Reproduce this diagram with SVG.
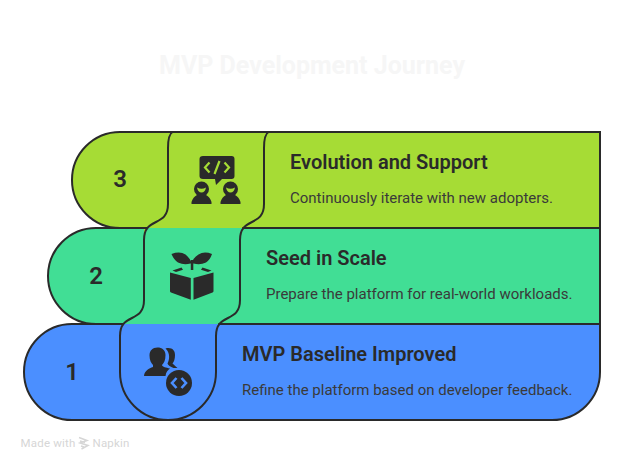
<svg xmlns="http://www.w3.org/2000/svg" width="624" height="468" viewBox="0 0 624 468">
<style>
text{font-family:Roboto,"Liberation Sans",sans-serif;fill:#2a2a2a}
.h{font-size:20px;font-weight:600}
.d{font-size:15px;fill:#3a3a3a}
.n{font-size:24px;font-weight:600;text-anchor:middle}
.l{fill:none;stroke:#2a2a2a;stroke-width:2;stroke-linecap:round}
.i{fill:#2a2a2a}
.f{font-size:11.5px;fill:#d6d6d6;letter-spacing:.2px}
</style>
<rect width="624" height="468" fill="#fff"/>
<text x="312" y="74" text-anchor="middle" font-size="25" font-weight="700" style="fill:#f6f6f6">MVP Development Journey</text>
<g id="band-3">
<path d="M120 132H600V228H120A48 48 0 0 1 120 132Z" fill="#a6dc35"/>
</g>
<g id="band-2">
<path d="M96 228H600V324H96A48 48 0 0 1 96 228Z" fill="#41de95"/>
<path d="M168 204C168 228 144 216 144 240V228H240C240 216 264 228 264 204V228H168Z" fill="#a6dc35"/>
</g>
<g id="band-1">
<path d="M72 324H600V372A48 48 0 0 1 552 420H72A48 48 0 0 1 72 324Z" fill="#4b8fff"/>
</g>
<g id="connectors">
<path class="l" d="M600 228V132H120A48 48 0 0 0 120 228H147"/>
<path class="l" d="M243 228H600V324H242"/>
<path class="l" d="M146 228H96A48 48 0 0 0 96 324H123"/>
<path class="l" d="M219 324H600V372A48 48 0 0 1 552 420H72A48 48 0 0 1 72 324H123"/>
<path class="l" d="M172.500 132C169 134 168 140 168 148V204C168 228 144 216 144 240V300C144 324 120 312 120 336V372A48 48 0 0 0 216 372V336C216 312 240 324 240 300V240C240 216 264 228 264 204V148C264 140 265 134 268.500 132"/>
</g>
<g id="step-3">
<text class="n" x="120" y="187">3</text>
<path class="i" d="M203 156H231.500Q234.500 156 234.500 159V176Q234.500 179 231.500 179H222L216 185L215 179H203Q199.500 179 199.500 176V159Q199.500 156 203 156Z"/>
<path d="M209.500 162.500L205 167.500L209.500 172.500M224.500 162.500L229 167.500L224.500 172.500M219.500 161L214.500 174" fill="none" stroke="#a6dc35" stroke-width="2.200"/>
<circle class="i" cx="201.500" cy="189" r="7.500"/>
<circle class="i" cx="230.500" cy="189" r="7.500"/>
<path class="i" d="M191.500 204V202Q193 197 197 195H206Q210 197 211.500 202V204ZM220.500 204V202Q222 197 226 195H235Q239 197 240.500 202V204Z"/>
<path d="M197 187.500Q201.500 190 206 187.500Q205 192.500 201.500 192.500Q198 192.500 197 187.500ZM226 187.500Q230.500 190 235 187.500Q234 192.500 230.500 192.500Q227 192.500 226 187.500Z" fill="#a6dc35"/>
<text class="h" x="290" y="169">Evolution and Support</text>
<text class="d" x="290" y="203">Continuously iterate with new adopters.</text>
</g>
<g id="step-2">
<text class="n" x="96" y="284">2</text>
<path class="i" d="M171.500 254Q180 251 185.500 254.500Q190 258 192 264Q192.500 258 198.500 254.500Q204 251 212 254Q210 260 206 262.500Q200 265.500 193.500 263.500H190.500Q184 265.500 178 262.500Q174 260 171.500 254Z"/>
<rect class="i" x="190.800" y="260" width="2.500" height="10"/>
<path class="i" d="M170 272.500L190.800 278V299.800L171 292.500Q170 292 170 291ZM193.500 278L213.500 272.500V291Q213.500 292 212.500 292.500L193.500 299.800Z"/>
<path class="i" d="M172.500 270.500L181.500 267.500L183 269.800L176 272ZM211.500 270.500L202.500 267.500L201 269.800L208 272Z"/>
<text class="h" x="266" y="265">Seed in Scale</text>
<text class="d" x="266" y="299">Prepare the platform for real-world workloads.</text>
</g>
<g id="step-1">
<text class="n" x="72" y="380">1</text>
<path class="i" d="M165.500 355C165.500 350 162 347.500 157.500 347.500C152.500 347.500 149.500 350.500 149.500 355.500C149.500 360 151 363 153 365V367C149 368.500 144.500 370.500 144 376H165.500C166 372 168 370 170 368.500C166 367.500 162.500 367 162 365C164 363 165.500 360 165.500 355Z"/>
<path class="i" d="M165.500 348.500C171.500 347 175 350 175 355C175 359 174 362 172.500 363.500C174.500 365.500 176 366.500 177.500 368L173.500 368C170.500 366.500 168 365.500 167.500 363.500C169.500 360 170.500 353 165.500 348.500Z"/>
<circle class="i" cx="179" cy="383" r="13"/>
<path d="M176.500 378L172 383L176.500 388M181.500 378L186 383L181.500 388" fill="none" stroke="#4b8fff" stroke-width="2.600"/>
<text class="h" x="242" y="361">MVP Baseline Improved</text>
<text class="d" x="242" y="395">Refine the platform based on developer feedback.</text>
</g>
<g id="footer">
<text class="f" x="20.500" y="447">Made with</text>
<path d="M79 437.500L87 440.500L80 443L88 445.500L81.500 449M80 441L85 442.500M81 446L84 447" fill="none" stroke="#d6d6d6" stroke-width="1.500"/>
<text class="f" x="92.500" y="447">Napkin</text>
</g>
</svg>
